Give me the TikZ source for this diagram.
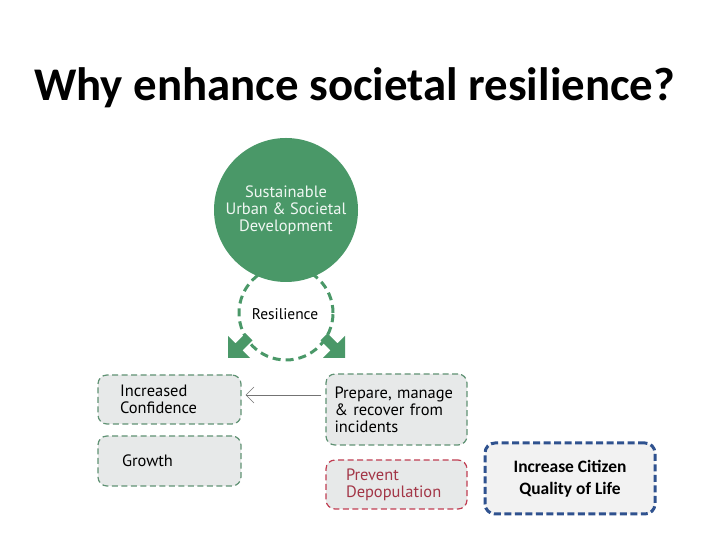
\documentclass[tikz,border=0pt]{standalone}
\usepackage{fontspec}
\setmainfont{Carlito}
\newfontfamily\boxfont{PT Sans}
\usepackage{xcolor}
\usetikzlibrary{arrows.meta,positioning}
\definecolor{sgreen}{RGB}{74,152,104}
\definecolor{dgreen}{RGB}{96,146,116}
\definecolor{boxgray}{RGB}{231,233,233}
\definecolor{pred}{RGB}{192,62,82}
\definecolor{qblue}{RGB}{47,82,143}
\hyphenpenalty=10000

\begin{document}
\begin{tikzpicture}[x=1bp,y=1bp,
      gbox/.style={draw=dgreen,dash pattern=on 6bp off 3.5bp,line width=1.2bp,fill=boxgray,
        rounded corners=9bp,align=left,inner ysep=0pt,
        font=\boxfont\fontsize{16.5}{17}\selectfont},
      rbox/.style={gbox,draw=pred,text=pred!85!black},
      resarrow/.style={fill=sgreen}]
    \useasboundingbox (0,0) rectangle (720,540);
    % title
    \node[anchor=base,font=\bfseries\fontsize{47}{50}\selectfont] (title) at (354.5,439)
      {Why enhance societal resilience?};
    % circles
    \draw[sgreen,line width=3bp,dash pattern=on 8bp off 5bp] (286,227) circle (47);
    \node[circle,fill=sgreen,minimum size=144bp,inner sep=0pt,align=center,
          text=white!92!sgreen,font=\boxfont\fontsize{16.5}{17}\selectfont] (sud) at (286,330)
      {Sustainable\\Urban \& Societal\\Development};
    \node[font=\boxfont\fontsize{15.5}{17}\selectfont] (res) at (285,226) {Resilience};
    % block arrows
    \fill[resarrow,shift={(228,182)}] (0,0) -- (22,0) -- (14.5,7.5) -- (24.5,17.5)
      -- (17.5,24.5) -- (7.5,14.5) -- (0,22) -- cycle;
    \fill[resarrow,shift={(345,182)},xscale=-1] (0,0) -- (22,0) -- (14.5,7.5) -- (24.5,17.5)
      -- (17.5,24.5) -- (7.5,14.5) -- (0,22) -- cycle;
    % boxes
    \node[gbox,inner xsep=22bp,text width=99bp,minimum height=49bp] (conf) at (169.5,140.5)
      {Increased\\Confidence};
    \node[gbox,inner xsep=24bp,text width=95bp,minimum height=50bp] (growth) at (169.5,79)
      {Growth};
    \node[gbox,inner xsep=8.5bp,text width=124bp,minimum height=71bp] (prep) at (396.5,130.5)
      {Prepare, manage\\{\&} recover from\\incidents};
    \node[rbox,inner xsep=20bp,text width=101bp,minimum height=49bp] (depop) at (396.5,55.5)
      {Prevent\\Depopulation};
    \node[draw=qblue,line width=3bp,dash pattern=on 7bp off 3.5bp,fill=black!5,
          rounded corners=10bp,minimum width=170bp,minimum height=71bp,align=center,
          font=\bfseries\fontsize{17.5}{22}\selectfont] (qol) at (570,61.5)
      {Increase Citizen\\Quality of Life};
    \draw[-{Straight Barb[length=8bp,width=16bp]},black!55,line width=0.6bp]
      ([shift={(-4,14.5)}]prep.west) -- ([shift={(4,4.5)}]conf.east);
  \end{tikzpicture}
\end{document}
